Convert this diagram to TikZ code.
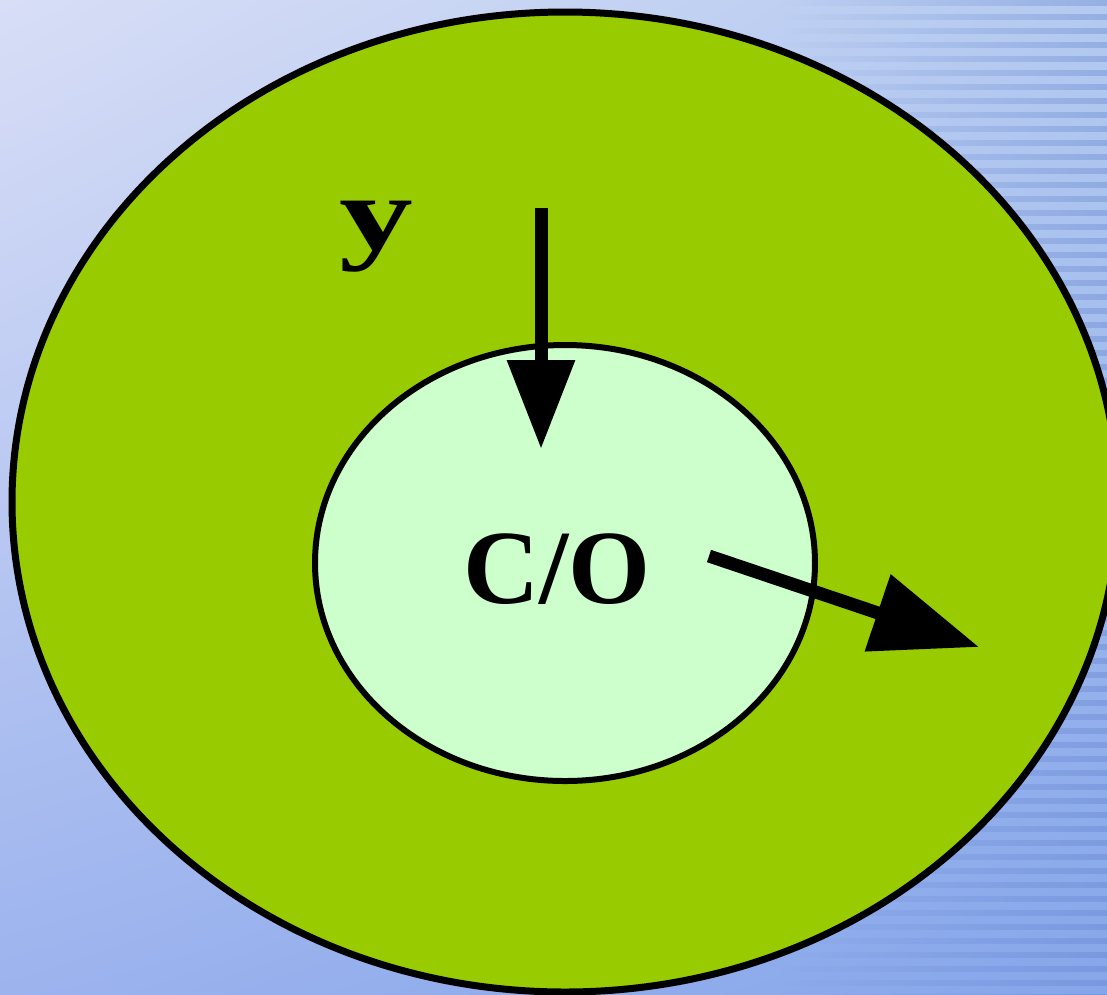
\documentclass[tikz,border=0pt]{standalone}
\usepackage{fontspec}
\setmainfont{Liberation Serif}
\usetikzlibrary{shapes.geometric,arrows.meta,fadings,shadings}

\definecolor{outergreen}{HTML}{99CC00}
\definecolor{innergreen}{HTML}{CCFFCC}
\definecolor{bgtl}{HTML}{D8DEF6}
\definecolor{bgtr}{HTML}{B4CAF0}
\definecolor{bgbl}{HTML}{9CB3EE}
\definecolor{bgbr}{HTML}{86A6EA}
\definecolor{stripeblue}{HTML}{5F7FCC}

\tikzfading[name=stripefade, left color=transparent!100, right color=transparent!0]

\begin{document}
\begin{tikzpicture}[x=0.1mm,y=-0.1mm,
		ring/.style={ellipse,draw,line width=0.7mm},
		flow/.style={line width=1.3mm},
		lbl/.style={font=\bfseries\fontsize{30}{36}\selectfont,inner sep=0pt}]
	
	\useasboundingbox (0,0) rectangle (1107,994);
	\clip (0,0) rectangle (1107,994);
	
	% background
	\shade[upper left=bgtl,upper right=bgtr,lower left=bgbl,lower right=bgbr] (0,0) rectangle (1107,994);
	\foreach \s in {0,14,...,994}
		\fill[stripeblue,opacity=0.35,path fading=stripefade] (780,\s) rectangle (1107,\s+6);
	
	% the two regions
	\node[ring,fill=outergreen,minimum width=110.6mm,minimum height=98mm] (outer) at (565,502) {};
	\node[ring,fill=innergreen,line width=0.6mm,minimum width=50mm,minimum height=43.6mm] (inner) at (565,563) {};
	
	\node[lbl,anchor=base] (ylabel) at (376,249) {\scalebox{1.4}[1]{y}};
	\node[lbl,anchor=base] (colabel) at (557,603) {C/O};
	
	\coordinate (yin) at (541,208);
	\coordinate (yout) at (541,449);
	\coordinate (coin) at (709,556);
	\coordinate (coout) at (979,647);
	
	\draw[flow,-{Triangle[length=8.9mm,width=6.5mm]}] (yin) -- (yout);
	\draw[flow,-{Triangle[length=10.7mm,width=7.8mm]}] (coin) -- (coout);
	
\end{tikzpicture}
\end{document}
